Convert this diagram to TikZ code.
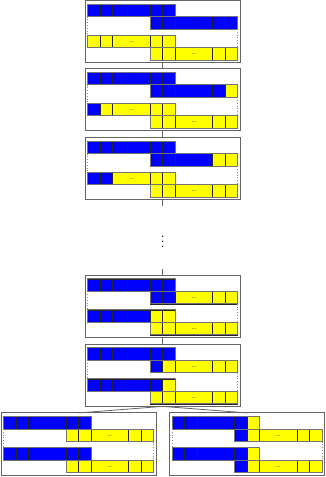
\documentclass[tikz,border=0pt]{standalone}
\definecolor{cB}{RGB}{0,0,255}
\definecolor{cY}{RGB}{255,255,0}
\tikzset{
  cell/.style={draw=black!85, line width=0.55pt},
  rowline/.style={draw=black!55, line width=0.9pt},
  frame/.style={draw=black!60, line width=1pt, inner sep=0pt, outer sep=0pt,
    minimum width=155pt, minimum height=62.3pt, anchor=north west},
  guide/.style={draw=black!45, dotted, line width=0.8pt},
  link/.style={draw=black!60, line width=0.8pt},
  dotstxt/.style={font=\scriptsize, inner sep=0pt},
}
\newcommand\myrow[8]{%
  \draw[cell,fill=#4] (#2,#3) rectangle ++(12.5,12.5);
  \draw[cell,fill=#5] (#2+12.5,#3) rectangle ++(12.5,12.5);
  \draw[cell,fill=#6] (#2+25,#3) rectangle ++(37.5,12.5);
  \draw[cell,fill=#7] (#2+62.5,#3) rectangle ++(12.5,12.5);
  \draw[cell,fill=#8] (#2+75,#3) rectangle ++(12.5,12.5);
  \draw[rowline] (#2,#3) rectangle ++(87.5,12.5);
  \node[dotstxt] (#1) at (#2+43.75,#3+6.6) {\ldots};
}
\newcommand\mybox[7]{%
  \node[frame] (#1) at (#2,#3) {};
  \myrow{#1r1}{#2+2.5}{#3+3.6}#4
  \myrow{#1r2}{#2+65}{#3+16.1}#5
  \myrow{#1r3}{#2+2.5}{#3+34.7}#6
  \myrow{#1r4}{#2+65}{#3+47.2}#7
  \draw[guide] (#2+2.5,#3+16.1) -- (#2+2.5,#3+34.7);
  \draw[guide] (#2+152.5,#3+28.6) -- (#2+152.5,#3+47.2);
}
\begin{document}
\begin{tikzpicture}[x=1pt,y=-1pt]
\useasboundingbox (0,0) rectangle (326,477);
\mybox{b1}{85.2}{0.4}{{cB}{cB}{cB}{cB}{cB}}{{cB}{cB}{cB}{cB}{cB}}{{cY}{cY}{cY}{cY}{cY}}{{cY}{cY}{cY}{cY}{cY}}
\mybox{b2}{85.2}{68.5}{{cB}{cB}{cB}{cB}{cB}}{{cB}{cB}{cB}{cB}{cY}}{{cB}{cY}{cY}{cY}{cY}}{{cY}{cY}{cY}{cY}{cY}}
\mybox{b3}{85.2}{137.5}{{cB}{cB}{cB}{cB}{cB}}{{cB}{cB}{cB}{cY}{cY}}{{cB}{cB}{cY}{cY}{cY}}{{cY}{cY}{cY}{cY}{cY}}
\mybox{b4}{85.2}{275.2}{{cB}{cB}{cB}{cB}{cB}}{{cB}{cB}{cY}{cY}{cY}}{{cB}{cB}{cB}{cY}{cY}}{{cY}{cY}{cY}{cY}{cY}}
\mybox{b5}{85.2}{344.1}{{cB}{cB}{cB}{cB}{cB}}{{cB}{cY}{cY}{cY}{cY}}{{cB}{cB}{cB}{cB}{cY}}{{cY}{cY}{cY}{cY}{cY}}
\mybox{bl}{1}{412.9}{{cB}{cB}{cB}{cB}{cB}}{{cY}{cY}{cY}{cY}{cY}}{{cB}{cB}{cB}{cB}{cB}}{{cY}{cY}{cY}{cY}{cY}}
\mybox{br}{169.5}{412.9}{{cB}{cB}{cB}{cB}{cY}}{{cB}{cY}{cY}{cY}{cY}}{{cB}{cB}{cB}{cB}{cY}}{{cB}{cY}{cY}{cY}{cY}}
\node[inner sep=0pt, scale=1.33] (dots) at (162.7,237.7) {$\vdots$};
\coordinate (c1) at (162.7,206);
\coordinate (c2) at (162.7,269);
\draw[link] (b1.south) -- (b2.north);
\draw[link] (b2.south) -- (b3.north);
\draw[link] (b3.south) -- (c1);
\draw[link] (c2) -- (b4.north);
\draw[link] (b4.south) -- (b5.north);
\draw[link] (b5.south) -- (bl.north);
\draw[link] (b5.south) -- (br.north);
\end{tikzpicture}
\end{document}
